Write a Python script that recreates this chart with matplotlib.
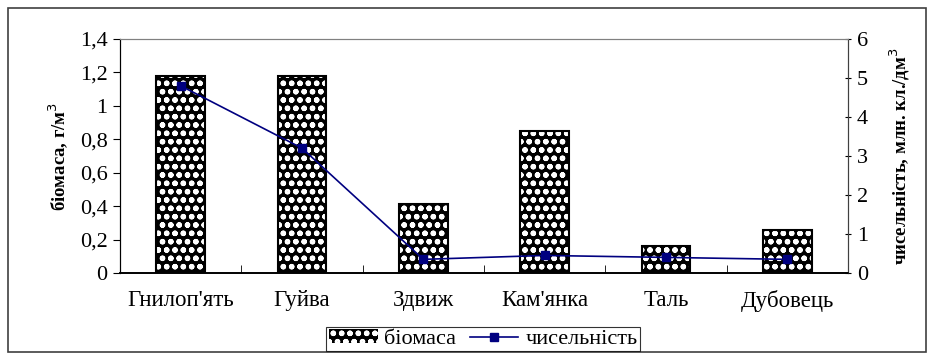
import matplotlib
matplotlib.use("Agg")
import matplotlib.pyplot as plt
from matplotlib.patches import Rectangle
from matplotlib.lines import Line2D
import numpy as np

plt.rcParams['font.family'] = ['Liberation Serif', 'DejaVu Serif']
plt.rcParams['hatch.linewidth'] = 1.6

categories = ["Гнилоп'ять", "Гуйва", "Здвиж", "Кам'янка", "Таль", "Дубовець"]
biomass = [1.18, 1.18, 0.41, 0.85, 0.16, 0.26]
abundance = [4.8, 3.2, 0.35, 0.45, 0.40, 0.35]
left_ticks = [0, 0.2, 0.4, 0.6, 0.8, 1.0, 1.2, 1.4]
left_labels = ['0', '0,2', '0,4', '0,6', '0,8', '1', '1,2', '1,4']
right_ticks = [0, 1, 2, 3, 4, 5, 6]

W, H = 931, 358
fig = plt.figure(figsize=(W/100, H/100), dpi=100)
L, R, T, B = 120, 848, 39, 273
ax = fig.add_axes([L/W, 1 - B/H, (R-L)/W, (B-T)/H])
ax2 = ax.twinx()

x = np.arange(len(categories))
ax.bar(x, biomass, width=0.4, color='black', edgecolor='white', hatch='oo', linewidth=0, zorder=2)
ax.bar(x, biomass, width=0.4, fill=False, edgecolor='black', linewidth=1.5, zorder=3)
ax.set_xlim(-0.5, len(categories) - 0.5)
ax.set_ylim(0, 1.4)
ax.set_yticks(left_ticks)
ax.set_yticklabels(left_labels)
ax.set_xticks(x)
ax.set_xticklabels(categories, fontsize=16.5)
ax.set_xticks(np.arange(-0.5, len(categories)), minor=True)
ax.tick_params(axis='x', which='major', length=0, pad=12)
ax.tick_params(axis='x', which='minor', length=6, direction='in', color='black')
ax.tick_params(axis='y', labelsize=16, length=5, direction='out', color='black', pad=4)
ax.set_ylabel('біомаса, г/м$^3$', fontsize=13.5, fontweight='bold', labelpad=6)

ax2.plot(x, abundance, color='#000080', marker='s', markersize=6, linewidth=1.2, zorder=5)
ax2.set_ylim(0, 6)
ax2.set_yticks(right_ticks)
ax2.tick_params(axis='y', labelsize=16, length=5, direction='inout', color='black', pad=4)
ax2.set_ylabel('чисельність, млн. кл./дм$^3$', fontsize=13.5, fontweight='bold', labelpad=14)

for a in (ax, ax2):
    a.spines['top'].set_color('#808080')
    a.spines['top'].set_linewidth(0.8)
    a.spines['left'].set_color('black')
    a.spines['right'].set_color('#404040')
    a.spines['bottom'].set_color('black')
    a.spines['bottom'].set_linewidth(1.2)

# legend
h1 = Rectangle((0, 0), 1, 1, facecolor='black', edgecolor='white', hatch='oo', linewidth=0)
h2 = Line2D([], [], color='#000080', marker='s', markersize=6, linewidth=1.2)
leg = fig.legend([h1, h2], ['біомаса', 'чисельність'], loc='center',
                 bbox_to_anchor=((323 + 643) / 2 / W, 1 - 339 / H), ncol=2,
                 frameon=True, fancybox=False, edgecolor='black', fontsize=16,
                 handlelength=2.2, handleheight=0.6, handletextpad=0.3, columnspacing=0.6,
                 borderpad=0.1, borderaxespad=0)
leg.get_frame().set_linewidth(0.8)

# outer frame
fig.add_artist(Rectangle((8/W, 1 - 352/H), (926-8)/W, (352-8)/H, transform=fig.transFigure,
                         fill=False, edgecolor='#404040', linewidth=1.2))

fig.savefig('out.png', dpi=100)
